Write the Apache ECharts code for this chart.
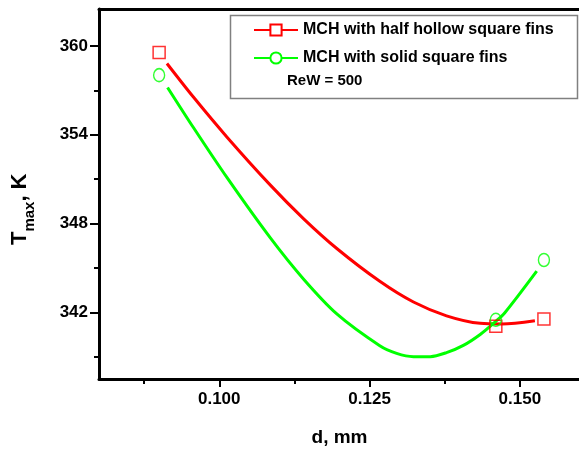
<!DOCTYPE html>
<html>
<head>
<meta charset="utf-8">
<script src="https://cdn.jsdelivr.net/npm/echarts@6/dist/echarts.min.js"></script>
<style>
  html, body { margin: 0; padding: 0; background: #fff; }
  #chart { width: 579px; height: 452px; }
</style>
</head>
<body>
<div id="chart"></div>
<script>
const FONT = '"Liberation Sans", Arial, sans-serif';
const RED = '#ff0000';
const GREEN = '#00ff00';

const seriesNames = ['MCH with half hollow square fins', 'MCH with solid square fins'];

// measured points (open symbols)
const hollowD = [0.090, 0.146, 0.154];
const hollowT = [359.56, 341.06, 341.55];
const solidD = [0.090, 0.146, 0.154];
const solidT = [358.03, 341.5, 345.54];

// smooth curves
const hollowCurveD = [0.0913, 0.0957, 0.1013, 0.1085, 0.1140, 0.1196, 0.1267, 0.1323, 0.1378, 0.1434, 0.1470, 0.1525];
const hollowCurveT = [358.82, 356.55, 353.84, 350.60, 348.34, 346.30, 344.10, 342.70, 341.77, 341.26, 341.22, 341.44];
const solidCurveD = [0.0914, 0.0957, 0.1013, 0.1085, 0.1140, 0.1196, 0.1267, 0.1295, 0.1323, 0.1351, 0.1378, 0.1406, 0.1434, 0.1459, 0.1475, 0.1528];
const solidCurveT = [357.20, 354.49, 351.10, 347.03, 344.26, 341.88, 339.75, 339.23, 339.01, 339.01, 339.28, 339.77, 340.51, 341.36, 341.98, 344.79];

const xTicks = [0.100, 0.125, 0.150];
const xMinorTicks = [0.0875, 0.1125, 0.1375];
const yTicks = [342, 348, 354, 360];
const yMinorTicks = [339, 345, 351, 357];

const zip = (xs, ys) => xs.map((x, i) => [x, ys[i]]);

const chart = echarts.init(document.getElementById('chart'));

const labelStyle = { color: '#000', fontFamily: FONT, fontWeight: 'bold', fontSize: 17 };
const tickLine = { color: '#000', width: 2 };
const X_MIN = 0.08, X_MAX = 0.16, Y_MIN = 337.5, Y_MAX = 362.5;

const option = {
  animation: false,
  backgroundColor: '#fff',
  grid: { left: 99, top: 9, width: 481, height: 370, containLabel: false, outerBoundsMode: 'none' },
  legend: {
    data: seriesNames,
    orient: 'vertical',
    left: 253,
    top: 22,
    padding: 0,
    itemWidth: 44,
    itemHeight: 14,
    itemGap: 12,
    selectedMode: false,
    textStyle: { color: '#000', fontFamily: FONT, fontWeight: 'bold', fontSize: 16 }
  },
  xAxis: [
    {
      type: 'value', min: X_MIN, max: X_MAX, position: 'bottom',
      axisLine: { lineStyle: { color: '#000', width: 3 } },
      axisTick: { customValues: xTicks, length: 8, lineStyle: tickLine },
      axisLabel: Object.assign({ customValues: xTicks, margin: 12, formatter: v => v.toFixed(3) }, labelStyle),
      splitLine: { show: false },
      name: 'd, mm', nameLocation: 'middle', nameGap: 49,
      nameTextStyle: { color: '#000', fontFamily: FONT, fontWeight: 'bold', fontSize: 19 }
    },
    {
      type: 'value', min: X_MIN, max: X_MAX, position: 'top',
      axisLine: { lineStyle: { color: '#000', width: 3 } },
      axisTick: { show: false }, axisLabel: { show: false }, splitLine: { show: false }
    },
    {
      type: 'value', min: X_MIN, max: X_MAX, position: 'bottom',
      axisLine: { show: false },
      axisTick: { customValues: xMinorTicks, length: 5, lineStyle: tickLine },
      axisLabel: { show: false }, splitLine: { show: false }
    }
  ],
  yAxis: [
    {
      type: 'value', min: Y_MIN, max: Y_MAX, position: 'left',
      axisLine: { show: true, lineStyle: { color: '#000', width: 3 } },
      axisTick: { show: true, customValues: yTicks, length: 9, lineStyle: tickLine },
      axisLabel: Object.assign({ customValues: yTicks, margin: 11 }, labelStyle),
      splitLine: { show: false }
    },
    {
      type: 'value', min: Y_MIN, max: Y_MAX, position: 'left',
      axisLine: { show: false },
      axisTick: { show: true, customValues: yMinorTicks, length: 5, lineStyle: tickLine },
      axisLabel: { show: false }, splitLine: { show: false }
    }
  ],
  series: [
    {
      name: seriesNames[0], type: 'line', smooth: 0.3, showSymbol: false, symbol: 'emptyRect',
      data: zip(hollowCurveD, hollowCurveT),
      lineStyle: { color: RED, width: 3 }, itemStyle: { color: RED, borderWidth: 1.5 }, z: 2
    },
    {
      name: seriesNames[1], type: 'line', smooth: 0.3, showSymbol: false, symbol: 'emptyCircle',
      data: zip(solidCurveD, solidCurveT),
      lineStyle: { color: GREEN, width: 3 }, itemStyle: { color: GREEN, borderWidth: 1.5 }, z: 2
    },
    {
      name: 'hollow points', type: 'scatter', symbol: 'rect', symbolSize: [12, 12],
      data: zip(hollowD, hollowT),
      itemStyle: { color: 'rgba(255,255,255,0)', borderColor: RED, borderWidth: 1.5 }, z: 3
    },
    {
      name: 'solid points', type: 'scatter', symbol: 'circle', symbolSize: [11, 13],
      data: zip(solidD, solidT),
      itemStyle: { color: 'rgba(255,255,255,0)', borderColor: GREEN, borderWidth: 1.5 }, z: 3
    }
  ],
  graphic: [
    {
      type: 'rect', left: 228, top: 13, z: 0,
      shape: { width: 347, height: 83 },
      style: { fill: 'none', stroke: '#808080', lineWidth: 1.5 }
    },
    {
      type: 'text', left: 287, top: 73,
      style: { text: 'ReW = 500', fill: '#000', font: 'bold 15px ' + FONT }
    },
    {
      type: 'group', x: 20, y: 209, rotation: Math.PI / 2,
      children: [
        { type: 'text', x: -36, y: 0, style: { text: 'T', fill: '#000', font: 'bold 22px ' + FONT, align: 'left', verticalAlign: 'middle' } },
        { type: 'text', x: -22.6, y: 10.3, style: { text: 'max', fill: '#000', font: 'bold 15px ' + FONT, align: 'left', verticalAlign: 'middle' } },
        { type: 'text', x: 7.4, y: 0, style: { text: ', K', fill: '#000', font: 'bold 22px ' + FONT, align: 'left', verticalAlign: 'middle' } }
      ]
    }
  ]
};

chart.setOption(option);
</script>
</body>
</html>
